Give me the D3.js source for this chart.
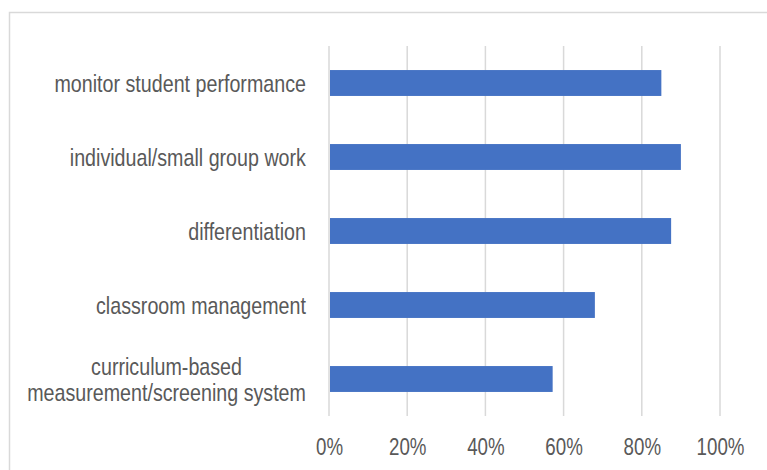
<!DOCTYPE html>
<html><head><meta charset="utf-8">
<script src="https://cdn.jsdelivr.net/npm/d3@7"></script>
<style>body{margin:0;background:#fff}svg{display:block}</style>
</head><body>
<svg id="c" width="767" height="470"></svg>
<script>
const categories = [
  ["monitor student performance"],
  ["individual/small group work"],
  ["differentiation"],
  ["classroom management"],
  ["curriculum-based", "measurement/screening system"]
];
const values = [0.85, 0.90, 0.875, 0.68, 0.572];
const ticks = [0, 0.2, 0.4, 0.6, 0.8, 1.0];

const svg = d3.select("#c");
const font = "'Liberation Sans',Arial,sans-serif";
const textColor = "#595959";
const sx = 0.82;

svg.append("rect").attr("x", 9.5).attr("y", 12.5).attr("width", 800).attr("height", 500)
  .attr("fill", "#fff").attr("stroke", "#d9d9d9").attr("stroke-width", 1.5);

const x = d3.scaleLinear().domain([0, 1]).range([329, 720]);
const y = d3.scaleBand().domain(d3.range(categories.length)).range([46, 416]).paddingInner(0.65).paddingOuter(0.325);

const grid = svg.append("g");
grid.selectAll("line").data(ticks).join("line")
  .attr("x1", d => x(d)).attr("x2", d => x(d))
  .attr("y1", 46).attr("y2", 416)
  .attr("stroke", "#d9d9d9").attr("stroke-width", 1.5);

svg.append("g").selectAll("rect").data(values).join("rect")
  .attr("x", x(0) + 1)
  .attr("y", (d, i) => y(i))
  .attr("width", d => x(d) - x(0) - 1)
  .attr("height", y.bandwidth())
  .attr("fill", "#4472c4");

const xAxis = d3.axisBottom(x).tickValues(ticks).tickFormat(d3.format(".0%")).tickSize(0).tickPadding(0);
const gx = svg.append("g").attr("transform", "translate(0,416)").call(xAxis);
gx.select(".domain").remove();
gx.selectAll(".tick text").attr("y", 0).attr("dy", "0")
  .attr("transform", "translate(0,38.5) scale(0.78,1)")
  .attr("font-family", font).attr("font-size", 24).attr("fill", textColor);

const labels = svg.append("g");
const rightX = 306;
categories.forEach((lines, i) => {
  const cy = y(i) + y.bandwidth() / 2;
  const lh = 26;
  const g = labels.append("g");
  const texts = lines.map((ln, j) => {
    const by = cy + (j - (lines.length - 1) / 2) * lh + 9;
    return g.append("text").attr("text-anchor", "middle")
      .attr("font-family", font).attr("font-size", 24).attr("fill", textColor)
      .attr("data-by", by)
      .text(ln);
  });
  const maxW = d3.max(texts, t => t.node().getComputedTextLength()) * sx;
  const cx = rightX - maxW / 2;
  texts.forEach(t => t.attr("transform", `translate(${cx},${t.attr("data-by")}) scale(${sx},1)`));
});
</script>
</body></html>
